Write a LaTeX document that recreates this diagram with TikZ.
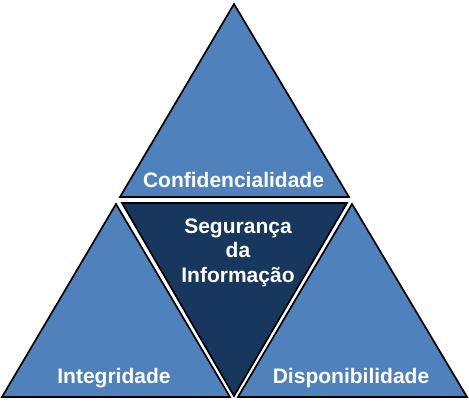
\documentclass[tikz,border=0pt]{standalone}
\usepackage{fontspec}
\setmainfont{Liberation Sans}
\definecolor{azul}{HTML}{4F81BD}
\definecolor{marinho}{HTML}{17375E}
\begin{document}
\begin{tikzpicture}[x=1pt, y=-1pt, line join=miter,
	lado/.style={draw=black, line width=1.7pt, fill=azul},
	centro/.style={lado, fill=marinho},
	rotulo/.style={text=white, font=\fontsize{21}{24.5}\selectfont\bfseries, inner sep=0pt, align=center}]
	\useasboundingbox[fill=white] (0,0) rectangle (469,402);
	\path
	(234,4) coordinate (T1) (120,197) coordinate (T2) (349,197) coordinate (T3)
	(116,204) coordinate (L1) (2,397) coordinate (L2) (230,397) coordinate (L3)
	(352,204) coordinate (R1) (238,397) coordinate (R2) (467,397) coordinate (R3)
	(122,203) coordinate (C1) (347,203) coordinate (C2) (234,396) coordinate (C3)
	;
	\draw[lado] (T1)--(T2)--(T3)--cycle;
	\draw[lado] (L1)--(L2)--(L3)--cycle;
	\draw[lado] (R1)--(R2)--(R3)--cycle;
	\draw[centro] (C1)--(C2)--(C3)--cycle;
	\node[rotulo, anchor=base] (conf) at (233.5,187) {Confidencialidade};
	\node[rotulo, anchor=base] (integ) at (114,383) {Integridade};
	\node[rotulo, anchor=base] (disp) at (351,383) {Disponibilidade};
	\node[rotulo] (seg) at (238,252.5) {Segurança\\da\\Informação};
\end{tikzpicture}
\end{document}
